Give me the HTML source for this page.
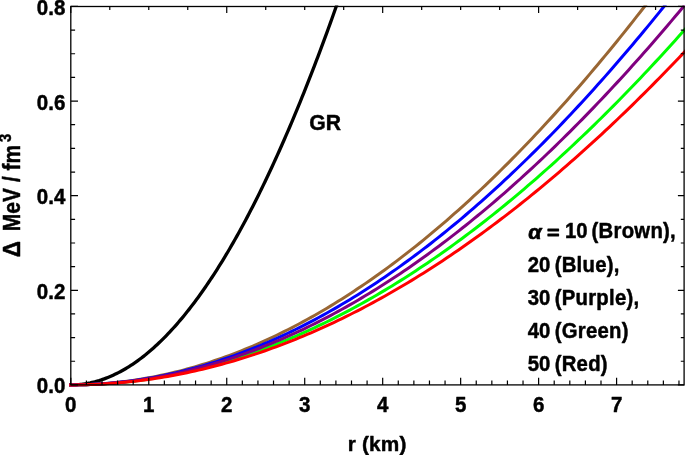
<!DOCTYPE html>
<html><head><meta charset="utf-8"><title>plot</title>
<style>
html,body{margin:0;padding:0;background:#fff;}
svg{display:block;}
text{font-family:"Liberation Sans",sans-serif;font-weight:bold;fill:#000;stroke:#000;stroke-width:0.45px;stroke-linejoin:round;}
.tl text{font-size:20.5px;}
.an .p{letter-spacing:0.27px;}
.an text{font-size:20.3px;word-spacing:0px;}
</style></head><body>
<svg width="685" height="455" viewBox="0 0 685 455">
<rect x="0" y="0" width="685" height="455" fill="#fff"/>
<defs><clipPath id="c"><rect x="0" y="5.5" width="685" height="449"/></clipPath></defs>
<g clip-path="url(#c)" fill="none" stroke-linejoin="round" stroke-linecap="square">
<path d="M70.80,384.90 L72.57,384.88 L74.33,384.83 L76.10,384.75 L77.86,384.63 L79.63,384.48 L81.39,384.29 L83.16,384.07 L84.92,383.82 L86.69,383.53 L88.45,383.21 L90.22,382.86 L91.98,382.47 L93.75,382.05 L95.52,381.60 L97.28,381.11 L99.05,380.59 L100.81,380.03 L102.58,379.44 L104.34,378.82 L106.11,378.16 L107.87,377.47 L109.64,376.74 L111.40,375.99 L113.17,375.19 L114.93,374.37 L116.70,373.51 L118.46,372.62 L120.23,371.69 L122.00,370.73 L123.76,369.74 L125.53,368.71 L127.29,367.65 L129.06,366.55 L130.82,365.42 L132.59,364.26 L134.35,363.07 L136.12,361.84 L137.88,360.57 L139.65,359.28 L141.41,357.95 L143.18,356.58 L144.95,355.19 L146.71,353.75 L148.48,352.29 L150.24,350.79 L152.01,349.26 L153.77,347.69 L155.54,346.10 L157.30,344.46 L159.07,342.80 L160.83,341.10 L162.60,339.36 L164.36,337.60 L166.13,335.80 L167.89,333.96 L169.66,332.10 L171.43,330.20 L173.19,328.26 L174.96,326.29 L176.72,324.29 L178.49,322.26 L180.25,320.19 L182.02,318.09 L183.78,315.95 L185.55,313.78 L187.31,311.58 L189.08,309.35 L190.84,307.08 L192.61,304.78 L194.38,302.44 L196.14,300.07 L197.91,297.67 L199.67,295.23 L201.44,292.76 L203.20,290.26 L204.97,287.72 L206.73,285.15 L208.50,282.55 L210.26,279.92 L212.03,277.25 L213.79,274.54 L215.56,271.81 L217.32,269.04 L219.09,266.24 L220.86,263.40 L222.62,260.53 L224.39,257.63 L226.15,254.69 L227.92,251.72 L229.68,248.72 L231.45,245.69 L233.21,242.62 L234.98,239.52 L236.74,236.38 L238.51,233.22 L240.27,230.01 L242.04,226.78 L243.81,223.51 L245.57,220.21 L247.34,216.88 L249.10,213.51 L250.87,210.11 L252.63,206.68 L254.40,203.21 L256.16,199.71 L257.93,196.18 L259.69,192.62 L261.46,189.02 L263.22,185.39 L264.99,181.73 L266.75,178.03 L268.52,174.30 L270.29,170.54 L272.05,166.74 L273.82,162.91 L275.58,159.05 L277.35,155.16 L279.11,151.23 L280.88,147.27 L282.64,143.28 L284.41,139.25 L286.17,135.19 L287.94,131.10 L289.70,126.98 L291.47,122.82 L293.24,118.63 L295.00,114.41 L296.77,110.16 L298.53,105.87 L300.30,101.55 L302.06,97.20 L303.83,92.81 L305.59,88.39 L307.36,83.94 L309.12,79.46 L310.89,74.94 L312.65,70.39 L314.42,65.81 L316.18,61.20 L317.95,56.55 L319.72,51.87 L321.48,47.16 L323.25,42.42 L325.01,37.64 L326.78,32.84 L328.54,28.00 L330.31,23.12 L332.07,18.22 L333.84,13.28 L335.60,8.31 L337.37,3.31 L339.13,-1.73 L340.90,-6.79 L342.67,-11.89 L344.43,-17.02 L346.20,-22.19 L347.96,-27.38 L349.73,-32.61 L351.49,-37.87" stroke="#000" stroke-width="3.3"/>
<path d="M70.80,384.90 L74.67,384.89 L78.55,384.84 L82.42,384.77 L86.30,384.67 L90.17,384.54 L94.04,384.38 L97.92,384.19 L101.79,383.97 L105.67,383.73 L109.54,383.45 L113.41,383.15 L117.29,382.81 L121.16,382.45 L125.04,382.06 L128.91,381.64 L132.78,381.19 L136.66,380.71 L140.53,380.20 L144.41,379.67 L148.28,379.10 L152.15,378.51 L156.03,377.88 L159.90,377.23 L163.78,376.55 L167.65,375.84 L171.52,375.10 L175.40,374.33 L179.27,373.54 L183.15,372.71 L187.02,371.86 L190.89,370.97 L194.77,370.06 L198.64,369.12 L202.52,368.15 L206.39,367.15 L210.26,366.13 L214.14,365.07 L218.01,363.99 L221.89,362.87 L225.76,361.73 L229.63,360.56 L233.51,359.36 L237.38,358.13 L241.26,356.87 L245.13,355.59 L249.00,354.27 L252.88,352.93 L256.75,351.56 L260.63,350.16 L264.50,348.73 L268.37,347.27 L272.25,345.79 L276.12,344.27 L279.99,342.73 L283.87,341.16 L287.74,339.56 L291.62,337.93 L295.49,336.27 L299.36,334.59 L303.24,332.87 L307.11,331.13 L310.99,329.36 L314.86,327.56 L318.73,325.73 L322.61,323.88 L326.48,321.99 L330.36,320.08 L334.23,318.14 L338.10,316.17 L341.98,314.17 L345.85,312.15 L349.73,310.10 L353.60,308.01 L357.47,305.91 L361.35,303.77 L365.22,301.60 L369.10,299.41 L372.97,297.19 L376.84,294.94 L380.72,292.66 L384.59,290.36 L388.47,288.02 L392.34,285.66 L396.21,283.27 L400.09,280.86 L403.96,278.41 L407.84,275.94 L411.71,273.44 L415.58,270.91 L419.46,268.36 L423.33,265.77 L427.21,263.16 L431.08,260.53 L434.95,257.86 L438.83,255.17 L442.70,252.45 L446.58,249.70 L450.45,246.92 L454.32,244.12 L458.20,241.29 L462.07,238.43 L465.95,235.55 L469.82,232.64 L473.69,229.70 L477.57,226.73 L481.44,223.74 L485.32,220.72 L489.19,217.67 L493.06,214.60 L496.94,211.50 L500.81,208.37 L504.69,205.22 L508.56,202.03 L512.43,198.82 L516.31,195.59 L520.18,192.33 L524.06,189.04 L527.93,185.72 L531.80,182.38 L535.68,179.01 L539.55,175.62 L543.43,172.19 L547.30,168.75 L551.17,165.27 L555.05,161.77 L558.92,158.24 L562.80,154.69 L566.67,151.11 L570.54,147.50 L574.42,143.87 L578.29,140.21 L582.17,136.53 L586.04,132.82 L589.91,129.08 L593.79,125.32 L597.66,121.53 L601.54,117.72 L605.41,113.88 L609.28,110.01 L613.16,106.12 L617.03,102.21 L620.91,98.26 L624.78,94.30 L628.65,90.30 L632.53,86.28 L636.40,82.24 L640.28,78.17 L644.15,74.08 L648.02,69.96 L651.90,65.81 L655.77,61.64 L659.65,57.44 L663.52,53.22 L667.39,48.98 L671.27,44.71 L675.14,40.41 L679.02,36.09 L682.89,31.75 L686.76,27.38" stroke="#00ff00" stroke-width="3.0"/>
<path d="M70.80,384.90 L74.67,384.88 L78.55,384.83 L82.42,384.74 L86.30,384.62 L90.17,384.46 L94.04,384.27 L97.92,384.04 L101.79,383.77 L105.67,383.47 L109.54,383.14 L113.41,382.77 L117.29,382.36 L121.16,381.92 L125.04,381.44 L128.91,380.93 L132.78,380.39 L136.66,379.81 L140.53,379.19 L144.41,378.54 L148.28,377.85 L152.15,377.13 L156.03,376.37 L159.90,375.58 L163.78,374.75 L167.65,373.89 L171.52,372.99 L175.40,372.05 L179.27,371.09 L183.15,370.08 L187.02,369.04 L190.89,367.97 L194.77,366.86 L198.64,365.72 L202.52,364.54 L206.39,363.32 L210.26,362.08 L214.14,360.79 L218.01,359.47 L221.89,358.12 L225.76,356.73 L229.63,355.31 L233.51,353.85 L237.38,352.35 L241.26,350.83 L245.13,349.26 L249.00,347.67 L252.88,346.03 L256.75,344.36 L260.63,342.66 L264.50,340.92 L268.37,339.15 L272.25,337.35 L276.12,335.50 L279.99,333.63 L283.87,331.72 L287.74,329.77 L291.62,327.79 L295.49,325.78 L299.36,323.73 L303.24,321.64 L307.11,319.53 L310.99,317.37 L314.86,315.19 L318.73,312.96 L322.61,310.71 L326.48,308.42 L330.36,306.09 L334.23,303.73 L338.10,301.34 L341.98,298.91 L345.85,296.45 L349.73,293.95 L353.60,291.42 L357.47,288.86 L361.35,286.26 L365.22,283.63 L369.10,280.96 L372.97,278.26 L376.84,275.53 L380.72,272.76 L384.59,269.95 L388.47,267.12 L392.34,264.25 L396.21,261.34 L400.09,258.41 L403.96,255.43 L407.84,252.43 L411.71,249.39 L415.58,246.32 L419.46,243.21 L423.33,240.07 L427.21,236.90 L431.08,233.69 L434.95,230.45 L438.83,227.17 L442.70,223.87 L446.58,220.53 L450.45,217.15 L454.32,213.74 L458.20,210.30 L462.07,206.83 L465.95,203.32 L469.82,199.78 L473.69,196.21 L477.57,192.60 L481.44,188.97 L485.32,185.29 L489.19,181.59 L493.06,177.85 L496.94,174.08 L500.81,170.28 L504.69,166.44 L508.56,162.57 L512.43,158.67 L516.31,154.74 L520.18,150.77 L524.06,146.77 L527.93,142.74 L531.80,138.68 L535.68,134.59 L539.55,130.46 L543.43,126.30 L547.30,122.10 L551.17,117.88 L555.05,113.62 L558.92,109.34 L562.80,105.02 L566.67,100.66 L570.54,96.28 L574.42,91.86 L578.29,87.42 L582.17,82.94 L586.04,78.43 L589.91,73.88 L593.79,69.31 L597.66,64.70 L601.54,60.07 L605.41,55.40 L609.28,50.70 L613.16,45.97 L617.03,41.21 L620.91,36.41 L624.78,31.59 L628.65,26.73 L632.53,21.85 L636.40,16.93 L640.28,11.98 L644.15,7.01 L648.02,2.00 L651.90,-3.04 L655.77,-8.11 L659.65,-13.21 L663.52,-18.35 L667.39,-23.51 L671.27,-28.70 L675.14,-33.92 L679.02,-39.17 L682.89,-44.46 L686.76,-49.77" stroke="#996633" stroke-width="3.0"/>
<path d="M70.80,384.90 L74.67,384.88 L78.55,384.83 L82.42,384.75 L86.30,384.64 L90.17,384.49 L94.04,384.31 L97.92,384.09 L101.79,383.84 L105.67,383.56 L109.54,383.25 L113.41,382.90 L117.29,382.52 L121.16,382.11 L125.04,381.66 L128.91,381.18 L132.78,380.67 L136.66,380.13 L140.53,379.55 L144.41,378.94 L148.28,378.29 L152.15,377.62 L156.03,376.91 L159.90,376.16 L163.78,375.39 L167.65,374.58 L171.52,373.74 L175.40,372.86 L179.27,371.95 L183.15,371.01 L187.02,370.04 L190.89,369.04 L194.77,368.00 L198.64,366.92 L202.52,365.82 L206.39,364.68 L210.26,363.51 L214.14,362.31 L218.01,361.07 L221.89,359.80 L225.76,358.50 L229.63,357.17 L233.51,355.80 L237.38,354.40 L241.26,352.97 L245.13,351.51 L249.00,350.01 L252.88,348.48 L256.75,346.91 L260.63,345.32 L264.50,343.69 L268.37,342.03 L272.25,340.34 L276.12,338.61 L279.99,336.85 L283.87,335.06 L287.74,333.24 L291.62,331.38 L295.49,329.50 L299.36,327.58 L303.24,325.62 L307.11,323.64 L310.99,321.62 L314.86,319.57 L318.73,317.49 L322.61,315.38 L326.48,313.23 L330.36,311.05 L334.23,308.84 L338.10,306.60 L341.98,304.32 L345.85,302.02 L349.73,299.68 L353.60,297.31 L357.47,294.90 L361.35,292.47 L365.22,290.00 L369.10,287.50 L372.97,284.97 L376.84,282.41 L380.72,279.81 L384.59,277.19 L388.47,274.53 L392.34,271.84 L396.21,269.12 L400.09,266.36 L403.96,263.58 L407.84,260.76 L411.71,257.91 L415.58,255.03 L419.46,252.12 L423.33,249.18 L427.21,246.21 L431.08,243.20 L434.95,240.17 L438.83,237.10 L442.70,234.00 L446.58,230.87 L450.45,227.71 L454.32,224.51 L458.20,221.29 L462.07,218.03 L465.95,214.75 L469.82,211.43 L473.69,208.08 L477.57,204.70 L481.44,201.29 L485.32,197.85 L489.19,194.38 L493.06,190.88 L496.94,187.34 L500.81,183.78 L504.69,180.19 L508.56,176.56 L512.43,172.91 L516.31,169.22 L520.18,165.50 L524.06,161.76 L527.93,157.98 L531.80,154.17 L535.68,150.33 L539.55,146.47 L543.43,142.57 L547.30,138.64 L551.17,134.68 L555.05,130.69 L558.92,126.67 L562.80,122.62 L566.67,118.55 L570.54,114.44 L574.42,110.30 L578.29,106.13 L582.17,101.93 L586.04,97.71 L589.91,93.45 L593.79,89.16 L597.66,84.85 L601.54,80.50 L605.41,76.13 L609.28,71.72 L613.16,67.29 L617.03,62.83 L620.91,58.34 L624.78,53.82 L628.65,49.27 L632.53,44.69 L636.40,40.08 L640.28,35.45 L644.15,30.78 L648.02,26.09 L651.90,21.36 L655.77,16.61 L659.65,11.83 L663.52,7.02 L667.39,2.19 L671.27,-2.68 L675.14,-7.57 L679.02,-12.49 L682.89,-17.44 L686.76,-22.42" stroke="#0000ff" stroke-width="3.0"/>
<path d="M70.80,384.90 L74.67,384.88 L78.55,384.84 L82.42,384.76 L86.30,384.65 L90.17,384.51 L94.04,384.34 L97.92,384.14 L101.79,383.91 L105.67,383.64 L109.54,383.35 L113.41,383.02 L117.29,382.67 L121.16,382.28 L125.04,381.86 L128.91,381.41 L132.78,380.93 L136.66,380.42 L140.53,379.88 L144.41,379.30 L148.28,378.70 L152.15,378.06 L156.03,377.40 L159.90,376.70 L163.78,375.97 L167.65,375.21 L171.52,374.42 L175.40,373.60 L179.27,372.75 L183.15,371.87 L187.02,370.95 L190.89,370.01 L194.77,369.04 L198.64,368.03 L202.52,366.99 L206.39,365.93 L210.26,364.83 L214.14,363.70 L218.01,362.54 L221.89,361.35 L225.76,360.13 L229.63,358.87 L233.51,357.59 L237.38,356.28 L241.26,354.93 L245.13,353.56 L249.00,352.15 L252.88,350.72 L256.75,349.25 L260.63,347.75 L264.50,346.22 L268.37,344.67 L272.25,343.08 L276.12,341.46 L279.99,339.81 L283.87,338.13 L287.74,336.42 L291.62,334.68 L295.49,332.90 L299.36,331.10 L303.24,329.27 L307.11,327.41 L310.99,325.51 L314.86,323.59 L318.73,321.63 L322.61,319.65 L326.48,317.64 L330.36,315.59 L334.23,313.52 L338.10,311.41 L341.98,309.28 L345.85,307.11 L349.73,304.92 L353.60,302.69 L357.47,300.44 L361.35,298.15 L365.22,295.83 L369.10,293.49 L372.97,291.11 L376.84,288.71 L380.72,286.27 L384.59,283.81 L388.47,281.31 L392.34,278.79 L396.21,276.24 L400.09,273.65 L403.96,271.04 L407.84,268.39 L411.71,265.72 L415.58,263.02 L419.46,260.29 L423.33,257.53 L427.21,254.73 L431.08,251.91 L434.95,249.06 L438.83,246.18 L442.70,243.28 L446.58,240.34 L450.45,237.37 L454.32,234.37 L458.20,231.35 L462.07,228.29 L465.95,225.21 L469.82,222.10 L473.69,218.95 L477.57,215.78 L481.44,212.58 L485.32,209.35 L489.19,206.09 L493.06,202.81 L496.94,199.49 L500.81,196.15 L504.69,192.77 L508.56,189.37 L512.43,185.94 L516.31,182.48 L520.18,178.99 L524.06,175.48 L527.93,171.93 L531.80,168.36 L535.68,164.76 L539.55,161.13 L543.43,157.47 L547.30,153.78 L551.17,150.06 L555.05,146.32 L558.92,142.55 L562.80,138.75 L566.67,134.92 L570.54,131.07 L574.42,127.18 L578.29,123.27 L582.17,119.33 L586.04,115.36 L589.91,111.37 L593.79,107.35 L597.66,103.30 L601.54,99.22 L605.41,95.11 L609.28,90.98 L613.16,86.82 L617.03,82.63 L620.91,78.42 L624.78,74.17 L628.65,69.90 L632.53,65.61 L636.40,61.28 L640.28,56.93 L644.15,52.55 L648.02,48.15 L651.90,43.72 L655.77,39.26 L659.65,34.77 L663.52,30.26 L667.39,25.72 L671.27,21.15 L675.14,16.56 L679.02,11.94 L682.89,7.29 L686.76,2.62" stroke="#800080" stroke-width="3.0"/>
<path d="M70.80,384.90 L74.67,384.89 L78.55,384.85 L82.42,384.78 L86.30,384.68 L90.17,384.56 L94.04,384.41 L97.92,384.23 L101.79,384.03 L105.67,383.80 L109.54,383.54 L113.41,383.25 L117.29,382.94 L121.16,382.60 L125.04,382.23 L128.91,381.84 L132.78,381.42 L136.66,380.97 L140.53,380.49 L144.41,379.99 L148.28,379.46 L152.15,378.90 L156.03,378.32 L159.90,377.71 L163.78,377.07 L167.65,376.40 L171.52,375.71 L175.40,374.99 L179.27,374.24 L183.15,373.47 L187.02,372.67 L190.89,371.84 L194.77,370.98 L198.64,370.10 L202.52,369.19 L206.39,368.25 L210.26,367.29 L214.14,366.30 L218.01,365.28 L221.89,364.24 L225.76,363.17 L229.63,362.07 L233.51,360.94 L237.38,359.79 L241.26,358.61 L245.13,357.41 L249.00,356.17 L252.88,354.91 L256.75,353.63 L260.63,352.31 L264.50,350.97 L268.37,349.60 L272.25,348.21 L276.12,346.79 L279.99,345.34 L283.87,343.87 L287.74,342.37 L291.62,340.84 L295.49,339.29 L299.36,337.70 L303.24,336.10 L307.11,334.46 L310.99,332.80 L314.86,331.11 L318.73,329.40 L322.61,327.66 L326.48,325.89 L330.36,324.10 L334.23,322.28 L338.10,320.43 L341.98,318.56 L345.85,316.66 L349.73,314.73 L353.60,312.78 L357.47,310.80 L361.35,308.80 L365.22,306.77 L369.10,304.71 L372.97,302.63 L376.84,300.52 L380.72,298.38 L384.59,296.22 L388.47,294.03 L392.34,291.81 L396.21,289.57 L400.09,287.31 L403.96,285.01 L407.84,282.69 L411.71,280.35 L415.58,277.98 L419.46,275.58 L423.33,273.16 L427.21,270.71 L431.08,268.24 L434.95,265.74 L438.83,263.21 L442.70,260.66 L446.58,258.08 L450.45,255.48 L454.32,252.85 L458.20,250.20 L462.07,247.52 L465.95,244.81 L469.82,242.08 L473.69,239.32 L477.57,236.54 L481.44,233.73 L485.32,230.90 L489.19,228.04 L493.06,225.16 L496.94,222.25 L500.81,219.31 L504.69,216.35 L508.56,213.37 L512.43,210.36 L516.31,207.33 L520.18,204.27 L524.06,201.18 L527.93,198.07 L531.80,194.94 L535.68,191.78 L539.55,188.59 L543.43,185.38 L547.30,182.15 L551.17,178.89 L555.05,175.60 L558.92,172.30 L562.80,168.96 L566.67,165.60 L570.54,162.22 L574.42,158.82 L578.29,155.38 L582.17,151.93 L586.04,148.45 L589.91,144.94 L593.79,141.41 L597.66,137.86 L601.54,134.28 L605.41,130.68 L609.28,127.06 L613.16,123.41 L617.03,119.73 L620.91,116.03 L624.78,112.31 L628.65,108.57 L632.53,104.80 L636.40,101.00 L640.28,97.19 L644.15,93.35 L648.02,89.48 L651.90,85.59 L655.77,81.68 L659.65,77.75 L663.52,73.79 L667.39,69.80 L671.27,65.80 L675.14,61.77 L679.02,57.72 L682.89,53.64 L686.76,49.54" stroke="#ff0000" stroke-width="3.0"/>
</g>
<rect x="70.80" y="6.50" width="613.30" height="378.40" fill="none" stroke="#000" stroke-width="1.3"/>
<path d="M70.80,384.90 v-7.2 M86.39,384.90 v-4.3 M101.99,384.90 v-4.3 M117.58,384.90 v-4.3 M133.18,384.90 v-4.3 M148.77,384.90 v-7.2 M164.36,384.90 v-4.3 M179.96,384.90 v-4.3 M195.55,384.90 v-4.3 M211.15,384.90 v-4.3 M226.74,384.90 v-7.2 M242.33,384.90 v-4.3 M257.93,384.90 v-4.3 M273.52,384.90 v-4.3 M289.12,384.90 v-4.3 M304.71,384.90 v-7.2 M320.30,384.90 v-4.3 M335.90,384.90 v-4.3 M351.49,384.90 v-4.3 M367.09,384.90 v-4.3 M382.68,384.90 v-7.2 M398.27,384.90 v-4.3 M413.87,384.90 v-4.3 M429.46,384.90 v-4.3 M445.06,384.90 v-4.3 M460.65,384.90 v-7.2 M476.24,384.90 v-4.3 M491.84,384.90 v-4.3 M507.43,384.90 v-4.3 M523.03,384.90 v-4.3 M538.62,384.90 v-7.2 M554.21,384.90 v-4.3 M569.81,384.90 v-4.3 M585.40,384.90 v-4.3 M601.00,384.90 v-4.3 M616.59,384.90 v-7.2 M632.18,384.90 v-4.3 M647.78,384.90 v-4.3 M663.37,384.90 v-4.3 M678.97,384.90 v-4.3 M70.80,6.50 v6.6 M109.78,6.50 v3.6 M148.77,6.50 v3.6 M187.75,6.50 v3.6 M226.74,6.50 v6.6 M265.73,6.50 v3.6 M304.71,6.50 v3.6 M343.69,6.50 v3.6 M382.68,6.50 v6.6 M421.67,6.50 v3.6 M460.65,6.50 v3.6 M499.63,6.50 v3.6 M538.62,6.50 v6.6 M577.61,6.50 v3.6 M616.59,6.50 v3.6 M655.57,6.50 v3.6 M70.80,384.90 h7.2 M684.10,384.90 h-6.2 M70.80,361.25 h4.3 M684.10,361.25 h-3.3 M70.80,337.59 h4.3 M684.10,337.59 h-3.3 M70.80,313.94 h4.3 M684.10,313.94 h-3.3 M70.80,290.29 h7.2 M684.10,290.29 h-6.2 M70.80,266.64 h4.3 M684.10,266.64 h-3.3 M70.80,242.98 h4.3 M684.10,242.98 h-3.3 M70.80,219.33 h4.3 M684.10,219.33 h-3.3 M70.80,195.68 h7.2 M684.10,195.68 h-6.2 M70.80,172.03 h4.3 M684.10,172.03 h-3.3 M70.80,148.37 h4.3 M684.10,148.37 h-3.3 M70.80,124.72 h4.3 M684.10,124.72 h-3.3 M70.80,101.07 h7.2 M684.10,101.07 h-6.2 M70.80,77.42 h4.3 M684.10,77.42 h-3.3 M70.80,53.76 h4.3 M684.10,53.76 h-3.3 M70.80,30.11 h4.3 M684.10,30.11 h-3.3 M70.80,6.46 h7.2 M684.10,6.46 h-6.2" stroke="#000" stroke-width="1.2" fill="none"/>
<g class="tl">
<text transform="translate(70.80,411.95) scale(1,1.07)" text-anchor="middle">0</text>
<text transform="translate(148.77,411.95) scale(1,1.07)" text-anchor="middle">1</text>
<text transform="translate(226.74,411.95) scale(1,1.07)" text-anchor="middle">2</text>
<text transform="translate(304.71,411.95) scale(1,1.07)" text-anchor="middle">3</text>
<text transform="translate(382.68,411.95) scale(1,1.07)" text-anchor="middle">4</text>
<text transform="translate(460.65,411.95) scale(1,1.07)" text-anchor="middle">5</text>
<text transform="translate(538.62,411.95) scale(1,1.07)" text-anchor="middle">6</text>
<text transform="translate(616.59,411.95) scale(1,1.07)" text-anchor="middle">7</text>
<text transform="translate(65.3,393.40) scale(1,1.07)" text-anchor="end">0.0</text>
<text transform="translate(65.3,298.79) scale(1,1.07)" text-anchor="end">0.2</text>
<text transform="translate(65.3,204.18) scale(1,1.07)" text-anchor="end">0.4</text>
<text transform="translate(65.3,109.57) scale(1,1.07)" text-anchor="end">0.6</text>
<text transform="translate(65.3,14.96) scale(1,1.07)" text-anchor="end">0.8</text>
</g>
<text x="377.2" y="451.2" text-anchor="middle" font-size="20.8" letter-spacing="0.2">r (km)</text>
<g transform="translate(19.9,0) rotate(-90) scale(1,1.1)" text-anchor="middle" font-size="21">
<text x="-249.2" y="0" font-size="22.5">&#916;</text>
<text x="-209.6" y="0">MeV</text>
<text x="-179.1" y="0">/</text>
<text x="-157.6" y="0">fm</text>
<text x="-138.0" y="-8.1" font-size="14.7">3</text>
</g>
<g class="an">
<text transform="translate(309.2,130.25) scale(1,1.04)" style="font-size:21.2px">GR</text>
<text transform="translate(528.2,238.9) scale(1,0.92)" font-style="italic" style="font-size:21.6px;stroke-width:0.7px">&#945;</text>
<text transform="translate(546.9,238.9) scale(1,0.86)" style="font-size:21.4px;stroke-width:1.0px">=</text>
<text transform="translate(565.0,238.45) scale(1,1.05)">10 <tspan class="p" dx="-1.64">(Brown),</tspan></text>
<text transform="translate(527.8,271.7) scale(1,1.05)">20 <tspan class="p" dx="-1.34">(Blue),</tspan></text>
<text transform="translate(527.8,304.5) scale(1,1.05)">30 <tspan class="p" dx="-1.34">(Purple),</tspan></text>
<text transform="translate(527.8,338.1) scale(1,1.05)">40 <tspan class="p" dx="-1.34">(Green)</tspan></text>
<text transform="translate(527.8,370.9) scale(1,1.05)">50 <tspan class="p" dx="-1.34">(Red)</tspan></text>
</g>
</svg>
</body></html>
